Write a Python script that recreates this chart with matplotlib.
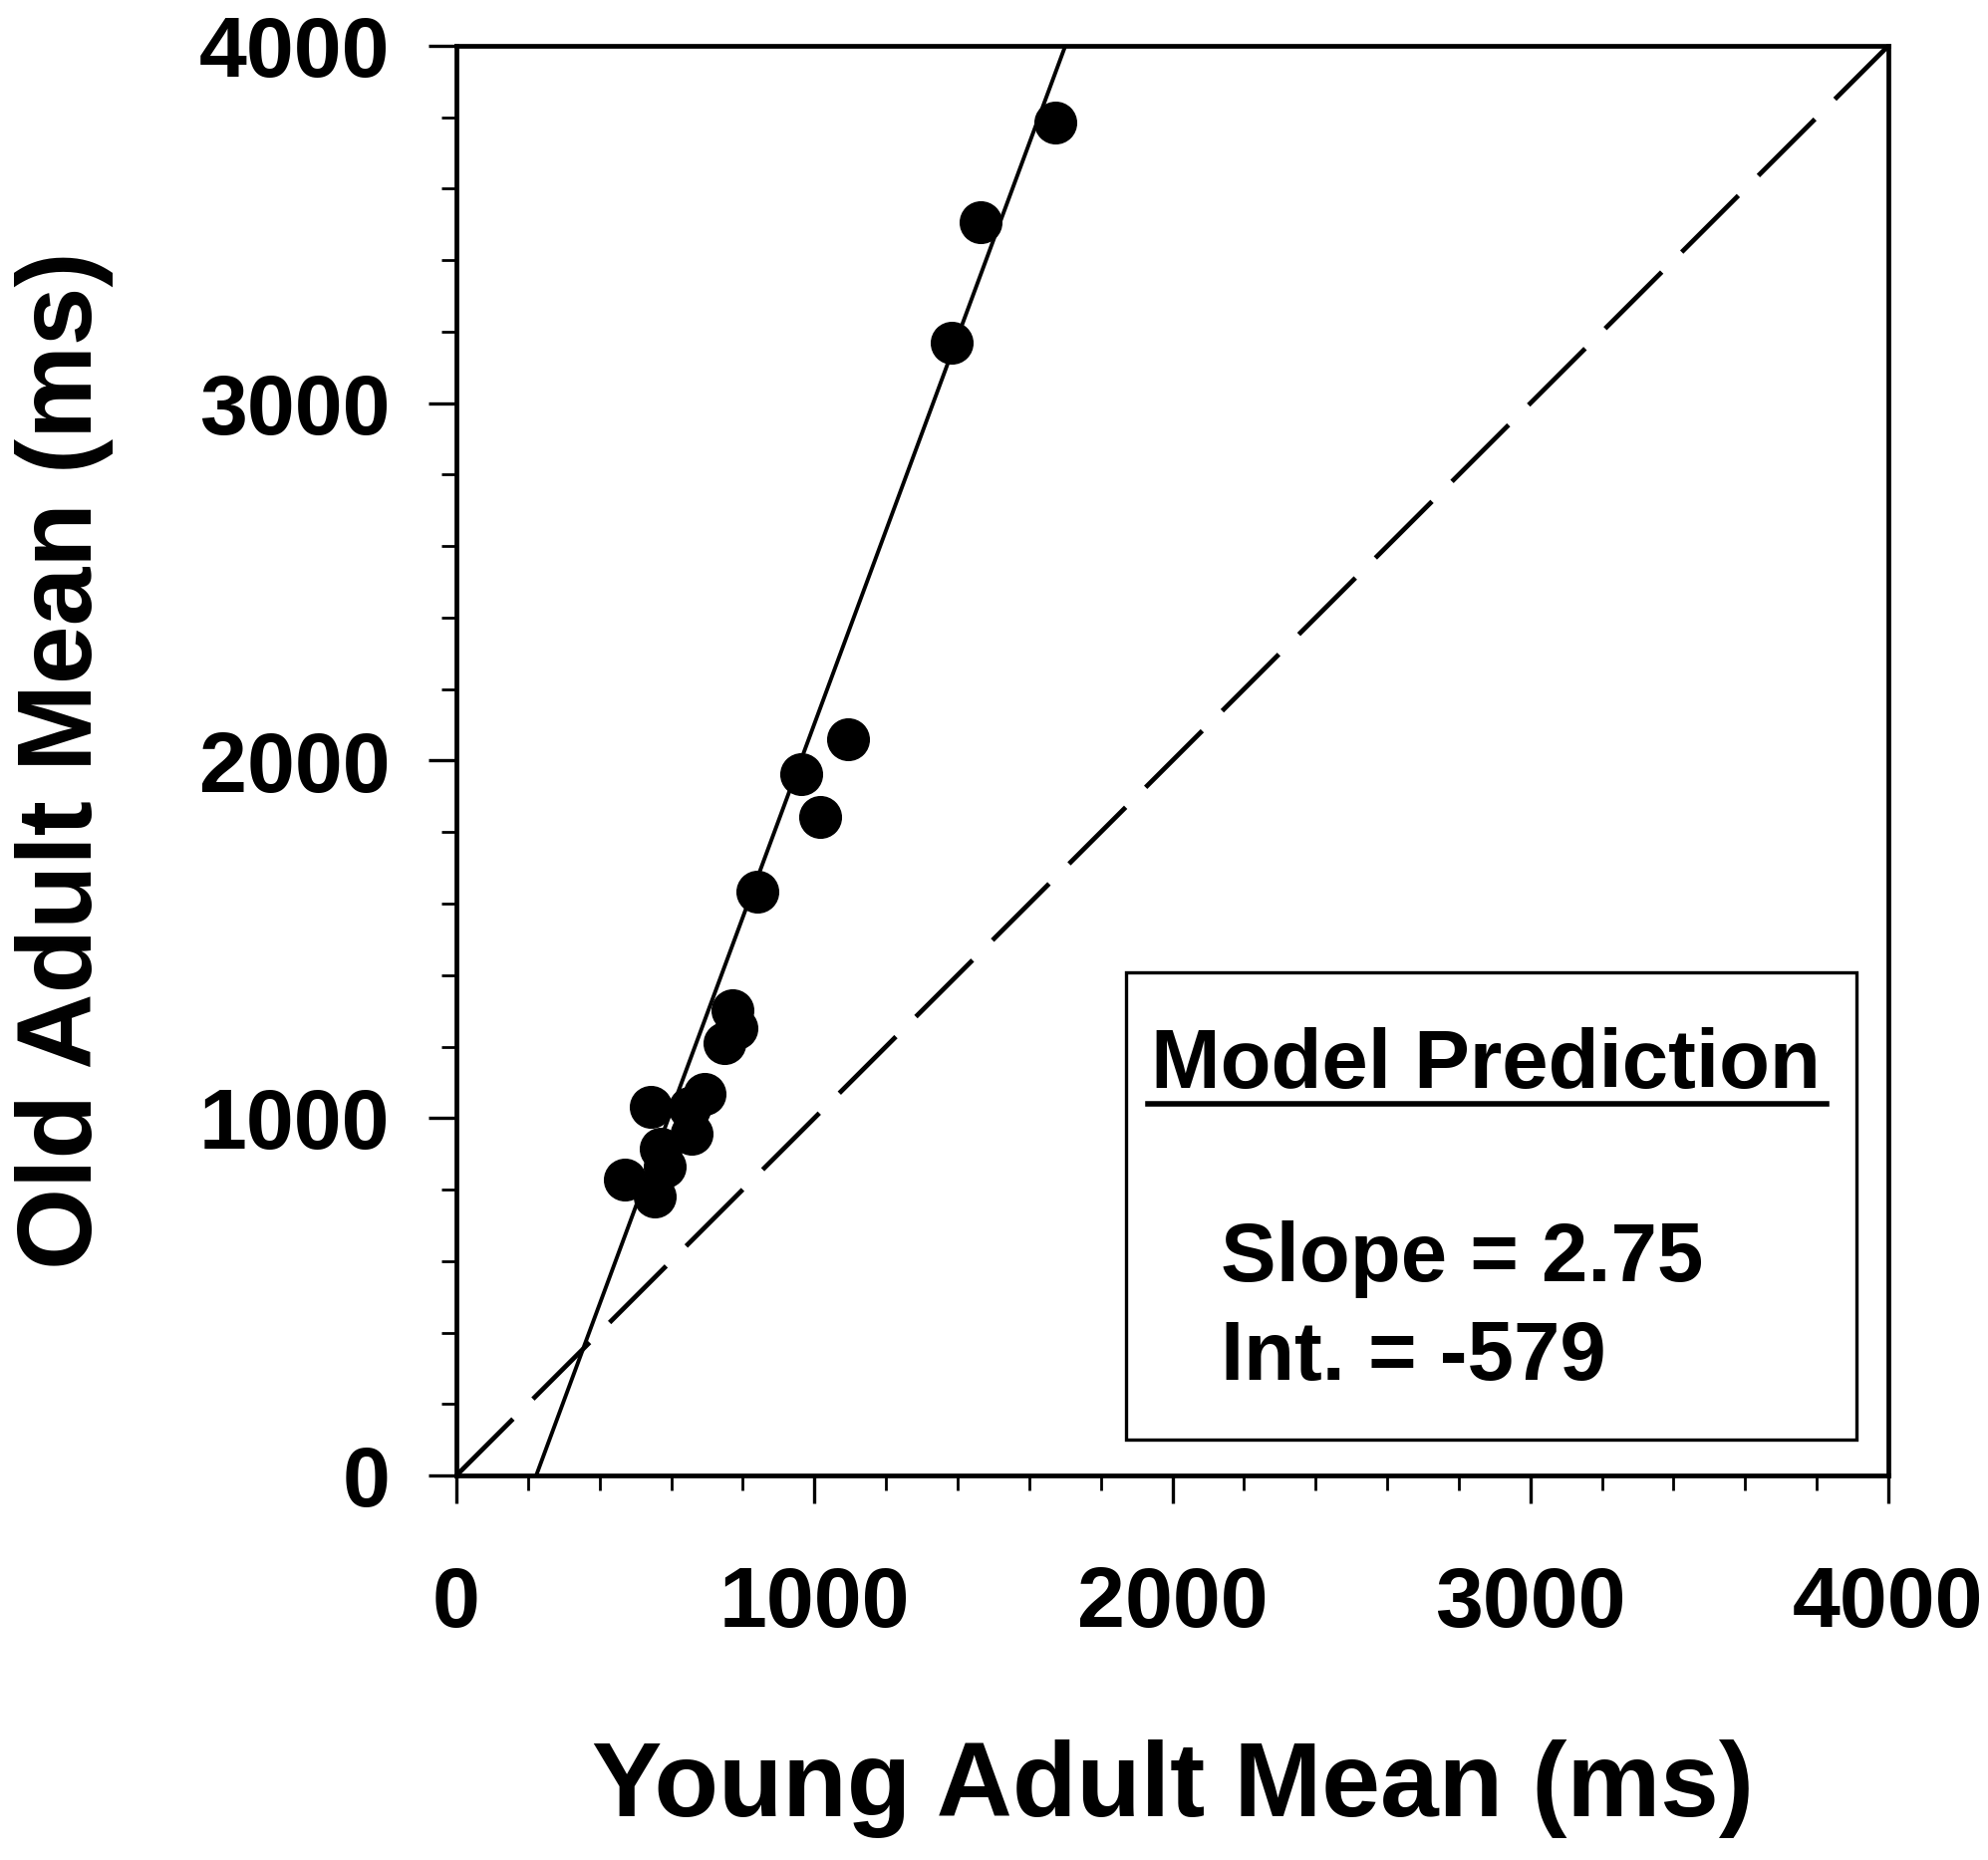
import numpy as np
import matplotlib.pyplot as plt
from matplotlib.patches import Rectangle
from matplotlib.ticker import MultipleLocator

plt.rcParams['font.family'] = ['Liberation Sans', 'DejaVu Sans']
plt.rcParams['font.weight'] = 'bold'

# young vs old adult mean RT (ms)
young = np.array([1673, 1464, 1384, 1093, 962, 1015, 842, 772, 781, 750,
                  694, 650, 543, 658, 571, 583, 471, 555])
old = np.array([3785, 3506, 3169, 2060, 1962, 1843, 1634, 1301, 1251, 1209,
                1067, 1028, 1031, 956, 913, 864, 828, 781])

# fitted model line and identity line
fit_x = [223, 1701]
fit_y = [0, 4000]
diag = [0, 4000]

ticks = [0, 1000, 2000, 3000, 4000]

fig = plt.figure(figsize=(19.95, 18.67), dpi=100)
ax = fig.add_axes([458 / 1995, 1 - 1481 / 1867, 1437 / 1995, 1435 / 1867])

ax.plot(fit_x, fit_y, color='black', lw=2.8, zorder=2)
ax.plot(diag, diag, color='black', lw=3.4, dashes=(17, 6), zorder=2)
ax.plot(young, old, 'o', color='black', markersize=30, zorder=3)

ax.set_xlim(0, 4000)
ax.set_ylim(0, 4000)
ax.set_xticks(ticks)
ax.set_yticks(ticks)
ax.xaxis.set_minor_locator(MultipleLocator(200))
ax.yaxis.set_minor_locator(MultipleLocator(200))
ax.tick_params(which='major', direction='out', length=20, width=2.4,
               labelsize=62)
ax.tick_params(which='minor', direction='out', length=11, width=2)
ax.tick_params(axis='x', which='major', pad=45)
ax.tick_params(axis='y', which='major', pad=28)
for s in ax.spines.values():
    s.set_linewidth(3.4)

ax.set_xlabel('Young Adult Mean (ms)', fontsize=76, fontweight='bold', labelpad=68)
ax.set_ylabel('Old Adult Mean (ms)', fontsize=76, fontweight='bold', labelpad=62)

# inset box with model prediction
ax.add_patch(Rectangle((1870, 100), 2040, 1308, fill=False, lw=2.4,
                       edgecolor='black', zorder=4))
ax.text(1940, 1084, 'Model Prediction', fontsize=60, fontweight='bold',
        ha='left', va='baseline', zorder=5)
ax.plot([1932, 3828], [1040, 1040], color='black', lw=4, zorder=5)
ax.text(2135, 543, 'Slope = 2.75', fontsize=60, fontweight='bold',
        ha='left', va='baseline', zorder=5)
ax.text(2135, 268, 'Int. = -579', fontsize=60, fontweight='bold',
        ha='left', va='baseline', zorder=5)

fig.savefig('out.png', dpi=100)
